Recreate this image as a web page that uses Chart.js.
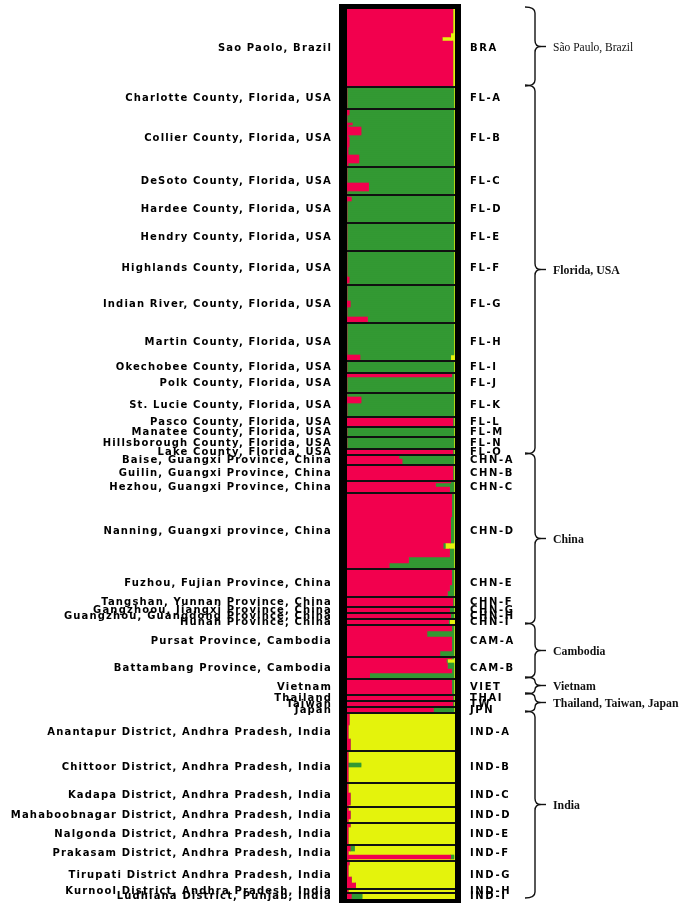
<!DOCTYPE html>
<html lang="en">
<head>
    <meta charset="UTF-8">
    <title>STRUCTURE plot</title>
    <script src="https://cdn.jsdelivr.net/npm/chart.js"></script>
    <style>
        body { margin: 0; background: #fff; }
        #wrap { width: 685px; height: 909px; }
    </style>
</head>
<body>
    <div id="wrap"><canvas id="structureChart" width="685" height="909"></canvas></div>
    <script>
        // Population codes (right side) and names (left side), top to bottom
        const popCodes = ['BRA', 'FL-A', 'FL-B', 'FL-C', 'FL-D', 'FL-E', 'FL-F', 'FL-G', 'FL-H', 'FL-I',
            'FL-J', 'FL-K', 'FL-L', 'FL-M', 'FL-N', 'FL-O', 'CHN-A', 'CHN-B', 'CHN-C', 'CHN-D',
            'CHN-E', 'CHN-F', 'CHN-G', 'CHN-H', 'CHN-I', 'CAM-A', 'CAM-B', 'VIET', 'THAI', 'TW',
            'JPN', 'IND-A', 'IND-B', 'IND-C', 'IND-D', 'IND-E', 'IND-F', 'IND-G', 'IND-H', 'IND-I'];

        const popNames = ['Sao Paolo, Brazil', 'Charlotte County, Florida, USA', 'Collier County, Florida, USA',
            'DeSoto County, Florida, USA', 'Hardee County, Florida, USA', 'Hendry County, Florida, USA',
            'Highlands County, Florida, USA', 'Indian River, County, Florida, USA', 'Martin County, Florida, USA',
            'Okechobee County, Florida, USA', 'Polk County, Florida, USA', 'St. Lucie County, Florida, USA',
            'Pasco County, Florida, USA', 'Manatee County, Florida, USA', 'Hillsborough County, Florida, USA',
            'Lake County, Florida, USA', 'Baise, Guangxi Province, China', 'Guilin, Guangxi Province, China',
            'Hezhou, Guangxi Province, China', 'Nanning, Guangxi province, China', 'Fuzhou, Fujian Province, China',
            'Tangshan, Yunnan Province, China', 'Gangzhoou, Jiangxi Province, China',
            'Guangzhou, Guangdong Province, China', 'Hunan Province, China', 'Pursat Province, Cambodia',
            'Battambang Province, Cambodia', 'Vietnam', 'Thailand', 'Taiwan', 'Japan',
            'Anantapur District, Andhra Pradesh, India', 'Chittoor District, Andhra Pradesh, India',
            'Kadapa District, Andhra Pradesh, India', 'Mahaboobnagar District, Andhra Pradesh, India',
            'Nalgonda District, Andhra Pradesh, India', 'Prakasam District, Andhra Pradesh, India',
            'Tirupati District Andhra Pradesh, India', 'Kurnool District, Andhra Pradesh, India',
            'Ludhiana District, Punjab, India'];

        // Ancestry runs per population: [number of individuals, red %, green %, yellow %]
        const ancestryRuns = [
            [[12, 98, 0, 2], [2, 96, 0, 4], [2, 88, 0, 12], [23, 98, 0, 2]],
            [[11, 0, 99, 1]],
            [[3, 2, 97, 1], [4, 0, 99, 1], [1, 5, 94, 1], [1, 1, 98, 1], [4, 13, 86, 1], [1, 1, 98, 1],
             [5, 2, 97, 1], [4, 1, 98, 1], [4, 11, 88, 1], [2, 1, 98, 1]],
            [[8, 0, 99, 1], [4, 20, 79, 1], [2, 0, 99, 1]],
            [[1, 0, 99, 1], [2, 4, 95, 1], [11, 0, 99, 1]],
            [[14, 0, 99, 1]],
            [[13, 0, 99, 1], [3, 2, 97, 1], [1, 0, 99, 1]],
            [[8, 0, 99, 1], [3, 3, 96, 1], [5, 0, 99, 1], [3, 19, 80, 1]],
            [[16, 0, 99, 1], [3, 12, 84, 4]],
            [[6, 0, 99, 1]],
            [[2, 97, 2, 1], [8, 0, 99, 1]],
            [[2, 0, 99, 1], [3, 13, 86, 1], [7, 0, 99, 1]],
            [[5, 98, 1, 1]],
            [[5, 0, 99, 1]],
            [[6, 0, 99, 1]],
            [[3, 98, 1, 1]],
            [[2, 48, 51, 1], [3, 51, 48, 1]],
            [[8, 98, 1, 1]],
            [[1, 96, 3, 1], [2, 82, 17, 1], [3, 95, 4, 1]],
            [[12, 97, 2, 1], [13, 96, 3, 1], [3, 89, 2, 9], [4, 95, 4, 1], [3, 57, 42, 1], [3, 39, 60, 1]],
            [[8, 97, 2, 1], [3, 95, 4, 1], [3, 93, 6, 1]],
            [[5, 98, 1, 1]],
            [[3, 95, 4, 1]],
            [[3, 96, 3, 1]],
            [[3, 94, 1, 5]],
            [[3, 97, 2, 1], [3, 74, 25, 1], [7, 97, 2, 1], [3, 86, 13, 1]],
            [[1, 97, 2, 1], [2, 92, 1, 7], [3, 93, 6, 1], [2, 97, 2, 1], [3, 21, 78, 1]],
            [[8, 97, 2, 1]],
            [[3, 98, 1, 1]],
            [[3, 98, 1, 1]],
            [[3, 80, 19, 1]],
            [[6, 2, 0, 98], [7, 1, 0, 99], [6, 3, 0, 97]],
            [[6, 1, 0, 99], [2, 1, 12, 87], [8, 1, 0, 99]],
            [[5, 1, 0, 99], [6, 3, 0, 97], [1, 1, 0, 99]],
            [[2, 1, 0, 99], [4, 3, 0, 97], [2, 1, 0, 99]],
            [[2, 3, 0, 97], [9, 1, 0, 99]],
            [[3, 3, 4, 93], [2, 1, 0, 99], [2, 96, 3, 1], [1, 1, 0, 99]],
            [[2, 2, 0, 98], [6, 1, 0, 99], [3, 4, 0, 96], [3, 8, 0, 92]],
            [[2, 1, 0, 99]],
            [[3, 4, 10, 86]]
        ];

        // Regional brackets: name, first and last population index
        const regionNames = ['São Paulo, Brazil', 'Florida, USA', 'China', 'Cambodia', 'Vietnam',
            'Thailand, Taiwan, Japan', 'India'];
        const regionFirstPop = [0, 1, 16, 25, 27, 28, 31];
        const regionLastPop = [0, 15, 24, 26, 27, 30, 39];

        const clusterColors = ['#F2004E', '#339933', '#E4F30C'];

        // Expand runs into one bar per individual
        const individuals = [];
        const redShare = [];
        const greenShare = [];
        const yellowShare = [];
        const popStart = [];
        ancestryRuns.forEach(runs => {
            popStart.push(individuals.length);
            runs.forEach(([n, r, g, y]) => {
                for (let i = 0; i < n; i++) {
                    individuals.push('ind' + (individuals.length + 1));
                    redShare.push(r);
                    greenShare.push(g);
                    yellowShare.push(y);
                }
            });
        });
        popStart.push(individuals.length);

        // Frame, separators, labels and braces
        const decorPlugin = {
            id: 'decor',
            afterDatasetsDraw(chart) {
                const ctx = chart.ctx;
                const ca = chart.chartArea;
                const yScale = chart.scales.y;
                const edge = i => yScale.getPixelForValue(i - 0.5);

                ctx.save();
                // population separators
                ctx.strokeStyle = '#111';
                ctx.lineWidth = 1.8;
                for (let p = 1; p < popCodes.length; p++) {
                    const y = edge(popStart[p]);
                    ctx.beginPath();
                    ctx.moveTo(ca.left, y);
                    ctx.lineTo(ca.right, y);
                    ctx.stroke();
                }
                // thick black frame
                ctx.fillStyle = '#000';
                ctx.fillRect(ca.left - 8, ca.top - 5, 8, ca.bottom - ca.top + 9);
                ctx.fillRect(ca.right, ca.top - 5, 6, ca.bottom - ca.top + 9);
                ctx.fillRect(ca.left - 8, ca.top - 5, ca.right - ca.left + 14, 5);
                ctx.fillRect(ca.left - 8, ca.bottom, ca.right - ca.left + 14, 4);

                // population labels
                ctx.fillStyle = '#000';
                ctx.textBaseline = 'middle';
                popCodes.forEach((code, p) => {
                    const yMid = (edge(popStart[p]) + edge(popStart[p + 1])) / 2;
                    ctx.font = 'bold 10px "DejaVu Sans"';
                    ctx.letterSpacing = '1.15px';
                    ctx.textAlign = 'right';
                    ctx.fillText(popNames[p], ca.left - 15, yMid);
                    ctx.font = 'bold 10px "DejaVu Sans"';
                    ctx.letterSpacing = '1.6px';
                    ctx.textAlign = 'left';
                    ctx.fillText(code, ca.right + 15, yMid);
                });
                ctx.letterSpacing = '0px';

                // curly braces with region names
                const xEnd = ca.right + 70;
                const xSpine = ca.right + 80;
                const xTip = ca.right + 86;
                ctx.strokeStyle = '#111';
                ctx.lineWidth = 1.4;
                regionNames.forEach((name, k) => {
                    const y1 = edge(popStart[regionFirstPop[k]]) - 2;
                    const y2 = edge(popStart[regionLastPop[k] + 1]) - 1;
                    const ym = (y1 + y2) / 2;
                    const c = Math.min(6, (y2 - y1) / 4);
                    ctx.beginPath();
                    ctx.moveTo(xEnd, y1);
                    ctx.quadraticCurveTo(xSpine, y1, xSpine, y1 + c);
                    ctx.lineTo(xSpine, ym - c);
                    ctx.quadraticCurveTo(xSpine, ym, xTip, ym);
                    ctx.quadraticCurveTo(xSpine, ym, xSpine, ym + c);
                    ctx.lineTo(xSpine, y2 - c);
                    ctx.quadraticCurveTo(xSpine, y2, xEnd, y2);
                    ctx.stroke();
                    ctx.beginPath();
                    ctx.moveTo(xTip, ym);
                    ctx.lineTo(xTip + 5, ym);
                    ctx.stroke();

                    ctx.fillStyle = '#111';
                    ctx.textAlign = 'left';
                    ctx.font = (k === 0 ? '11.5px' : 'bold 11.8px') + ' "Liberation Serif"';
                    ctx.fillText(name, xTip + 12, ym + 1);
                });
                ctx.restore();
            }
        };

        new Chart(document.getElementById('structureChart'), {
            type: 'bar',
            data: {
                labels: individuals,
                datasets: [
                    { label: 'Cluster 1', data: redShare, backgroundColor: clusterColors[0] },
                    { label: 'Cluster 2', data: greenShare, backgroundColor: clusterColors[1] },
                    { label: 'Cluster 3', data: yellowShare, backgroundColor: clusterColors[2] }
                ]
            },
            options: {
                indexAxis: 'y',
                responsive: false,
                animation: false,
                events: [],
                layout: { padding: { left: 347, right: 230, top: 9, bottom: 10 } },
                datasets: { bar: { barPercentage: 1, categoryPercentage: 1, borderWidth: 0 } },
                plugins: { legend: { display: false }, tooltip: { enabled: false } },
                scales: {
                    x: { stacked: true, min: 0, max: 100, display: false },
                    y: { stacked: true, display: false }
                }
            },
            plugins: [decorPlugin]
        });
    </script>
</body>
</html>
